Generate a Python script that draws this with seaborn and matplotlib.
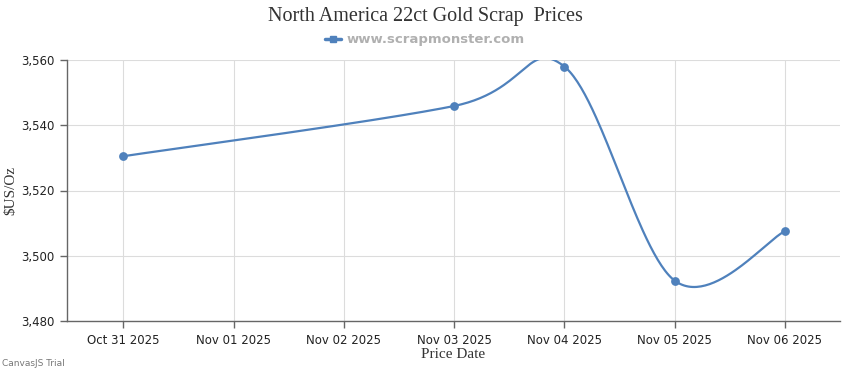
import numpy as np
import pandas as pd
import matplotlib
matplotlib.use("Agg")
import matplotlib.pyplot as plt
import matplotlib.dates as mdates
import seaborn as sns
from matplotlib.lines import Line2D

# ---- data ----
dates = ["2025-10-31", "2025-11-03", "2025-11-04", "2025-11-05", "2025-11-06"]
prices = [3530.5, 3545.9, 3558.0, 3492.4, 3507.5]
tick_dates = ["2025-10-31", "2025-11-01", "2025-11-02", "2025-11-03",
              "2025-11-04", "2025-11-05", "2025-11-06"]
y_ticks = [3480, 3500, 3520, 3540, 3560]

title = "North America 22ct Gold Scrap  Prices"
legend_label = "www.scrapmonster.com"
x_label = "Price Date"
y_label = "$US/Oz"

COLOR = "#4f81bc"

sns.set_theme(style="white")
plt.rcParams["font.family"] = ["DejaVu Sans"]

df = pd.DataFrame({"date": pd.to_datetime(dates), "price": prices})
xn = mdates.date2num(df["date"])
yn = np.asarray(prices, dtype=float)

# CanvasJS-like spline rendering (cardinal / Catmull-Rom Bezier through the points)
def spline(xs, ys, tension=6.0, n=60):
    pts = np.column_stack([xs, ys])
    out = []
    m = len(pts)
    for i in range(m - 1):
        pA = pts[i - 1] if i > 0 else pts[0]
        pB = pts[i]
        pC = pts[i + 1]
        pD = pts[i + 2] if i < m - 2 else pts[m - 1]
        c1 = pB + (pC - pA) / tension
        c2 = pC - (pD - pB) / tension
        s = np.linspace(0, 1, n)[:, None]
        seg = ((1 - s) ** 3) * pB + 3 * s * (1 - s) ** 2 * c1 + 3 * s ** 2 * (1 - s) * c2 + s ** 3 * pC
        out.append(seg if i == 0 else seg[1:])
    return np.vstack(out)

curve = spline(xn, yn)
curve_df = pd.DataFrame({"x": curve[:, 0], "y": curve[:, 1]})

fig = plt.figure(figsize=(8.5, 3.7), dpi=100)
ax = fig.add_axes([67 / 850, 1 - 321 / 370, (840 - 67) / 850, (321 - 60) / 370])

sns.lineplot(data=curve_df, x="x", y="y", sort=False, ax=ax, color=COLOR,
             linewidth=1.6, estimator=None)
sns.scatterplot(data=pd.DataFrame({"x": xn, "y": yn}), x="x", y="y", ax=ax,
                color=COLOR, s=40, edgecolor=COLOR, linewidth=0, zorder=5, clip_on=False)

tn = mdates.date2num(pd.to_datetime(tick_dates))
ax.set_xlim(tn[0] - 0.51, tn[-1] + 0.5)
ax.set_ylim(y_ticks[0], y_ticks[-1])
ax.set_xticks(tn)
ax.set_xticklabels([pd.Timestamp(d).strftime("%b %d %Y") for d in tick_dates])
ax.set_yticks(y_ticks)
ax.set_yticklabels([f"{v:,}" for v in y_ticks])

ax.grid(True, color="#dcdcdc", linewidth=0.8)
ax.set_axisbelow(True)
for side in ["top", "right"]:
    ax.spines[side].set_visible(False)
for side in ["left", "bottom"]:
    ax.spines[side].set_color("#666666")
    ax.spines[side].set_linewidth(1.0)
ax.tick_params(axis="both", which="major", direction="out", length=5, width=1,
               color="#666666", labelsize=8.5, labelcolor="#222222", pad=4,
               left=True, bottom=True)

ax.set_xlabel(x_label, family="Liberation Serif", fontsize=11, color="#333333", labelpad=1)
ax.set_ylabel(y_label, family="Liberation Serif", fontsize=11, color="#333333", labelpad=3)

fig.text(0.5, 1 - 17 / 370, title, ha="center", va="center",
         family="Liberation Serif", fontsize=14.5, color="#333333")

handle = Line2D([], [], color=COLOR, linewidth=2.5, marker="s", markersize=5)
fig.legend([handle], [legend_label], loc="center", bbox_to_anchor=(0.5, 1 - 40 / 370),
           frameon=False, handlelength=1.2, handletextpad=0.4,
           labelcolor="#b0b0b0", prop={"weight": "bold", "size": 9.5})

fig.text(2 / 850, 1 - 364 / 370, "CanvasJS Trial", ha="left", va="center",
         fontsize=6.5, color="#777777")

fig.savefig("out.png", dpi=100)
